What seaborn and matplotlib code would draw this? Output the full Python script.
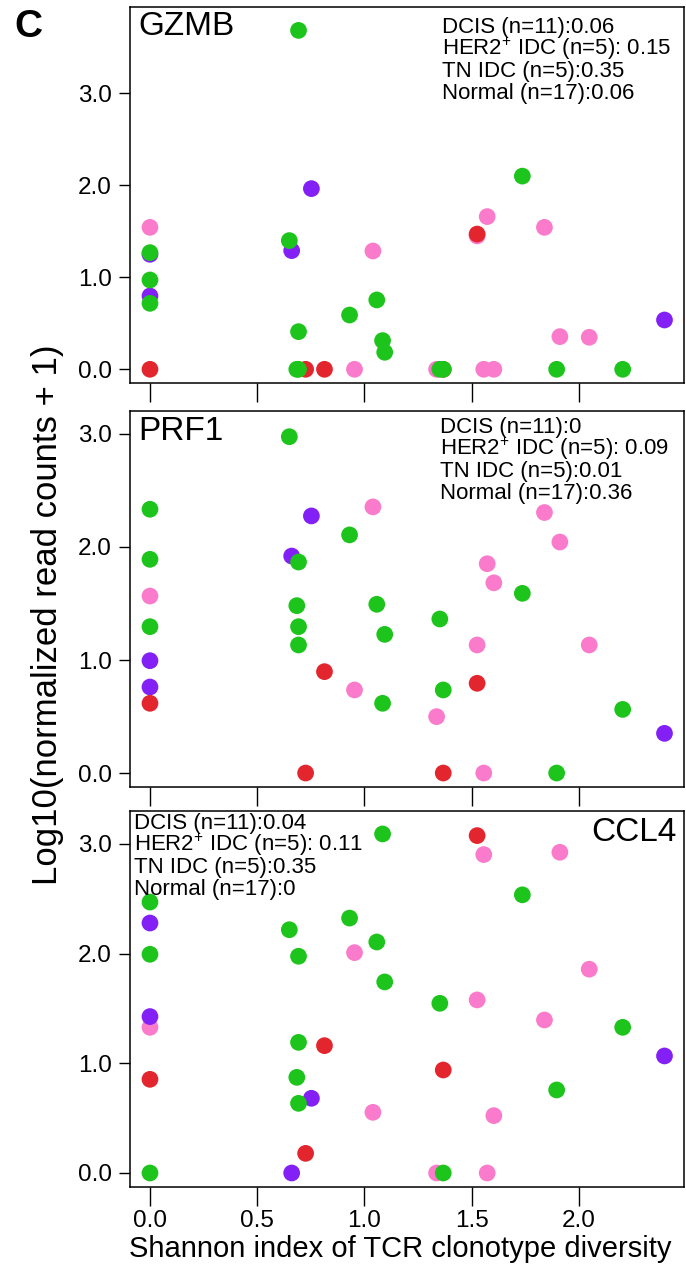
import numpy as np
import pandas as pd
import matplotlib
matplotlib.use("Agg")
import matplotlib.pyplot as plt
import seaborn as sns

# ---------------- data ----------------
groups = ["DCIS", "TN IDC", "HER2+ IDC", "Normal"]  # drawing order
colors = {"DCIS": "#FA7BCB", "TN IDC": "#8220F5", "HER2+ IDC": "#E3262E", "Normal": "#1CC41C"}

shannon_dcis = [0.0, 0.954, 1.040, 1.337, 1.526, 1.573, 1.604, 1.557, 1.840, 1.912, 2.049]
gzmb_dcis = [1.543, 0.0, 1.286, 0.0, 1.45, 1.66, 0.0, 0.0, 1.543, 0.355, 0.348]
prf1_dcis = [1.566, 0.735, 2.355, 0.499, 1.133, 1.852, 1.683, 0.0, 2.305, 2.044, 1.133]
ccl4_dcis = [1.328, 2.009, 0.553, 0.0, 1.578, 0.0, 0.523, 2.903, 1.395, 2.924, 1.858]

shannon_tn = [0.0, 0.0, 0.661, 0.753, 2.400]
gzmb_tn = [1.25, 0.797, 1.29, 1.964, 0.536]
prf1_tn = [0.994, 0.761, 1.92, 2.275, 0.351]
ccl4_tn = [2.279, 1.426, 0.0, 0.681, 1.067]

shannon_her2 = [0.0, 0.726, 0.814, 1.368, 1.526]
gzmb_her2 = [0.0, 0.0, 0.0, 0.0, 1.47]
prf1_her2 = [0.617, 0.0, 0.897, 0.0, 0.794]
ccl4_her2 = [0.854, 0.179, 1.161, 0.939, 3.076]

shannon_normal = [0.0, 0.0, 0.0, 0.650, 0.693, 0.685, 0.693, 0.693, 0.931, 1.058,
                  1.095, 1.085, 1.352, 1.368, 1.737, 1.897, 2.205]
gzmb_normal = [1.268, 0.971, 0.717, 1.399, 3.684, 0.0, 0.409, 0.0, 0.59, 0.754,
               0.185, 0.312, 0.0, 0.0, 2.10, 0.0, 0.0]
prf1_normal = [2.334, 1.891, 1.295, 2.976, 1.867, 1.481, 1.295, 1.133, 2.107, 1.493,
               1.227, 0.617, 1.363, 0.735, 1.59, 0.0, 0.563]
ccl4_normal = [2.47, 1.994, 0.0, 2.218, 1.976, 0.872, 1.191, 0.635, 2.324, 2.106,
               1.742, 3.091, 1.547, 0.0, 2.536, 0.757, 1.328]

genes = ["GZMB", "PRF1", "CCL4"]
annotations = {
    "GZMB": ["DCIS (n=11):0.06", "HER2$^{+}$ IDC (n=5): 0.15", "TN IDC (n=5):0.35", "Normal (n=17):0.06"],
    "PRF1": ["DCIS (n=11):0", "HER2$^{+}$ IDC (n=5): 0.09", "TN IDC (n=5):0.01", "Normal (n=17):0.36"],
    "CCL4": ["DCIS (n=11):0.04", "HER2$^{+}$ IDC (n=5): 0.11", "TN IDC (n=5):0.35", "Normal (n=17):0"],
}
x_ticks = [0.0, 0.5, 1.0, 1.5, 2.0]
x_ticklabels = ["0.0", "0.5", "1.0", "1.5", "2.0"]
y_ticks = [0, 1, 2, 3]
y_ticklabels = ["0.0", "1.0", "2.0", "3.0"]

frames = []
for g, sh, gz, pr, cc in [
    ("DCIS", shannon_dcis, gzmb_dcis, prf1_dcis, ccl4_dcis),
    ("TN IDC", shannon_tn, gzmb_tn, prf1_tn, ccl4_tn),
    ("HER2+ IDC", shannon_her2, gzmb_her2, prf1_her2, ccl4_her2),
    ("Normal", shannon_normal, gzmb_normal, prf1_normal, ccl4_normal),
]:
    frames.append(pd.DataFrame({"group": g, "shannon": sh, "GZMB": gz, "PRF1": pr, "CCL4": cc}))
df = pd.concat(frames, ignore_index=True)

# ---------------- style ----------------
sns.set_theme(style="white")
plt.rcParams["font.family"] = ["Liberation Sans", "DejaVu Sans"]
plt.rcParams["mathtext.fontset"] = "custom"
plt.rcParams["mathtext.rm"] = "Liberation Sans"
plt.rcParams["mathtext.it"] = "Liberation Sans"
plt.rcParams["mathtext.default"] = "regular"

W, H = 686, 1268
fig = plt.figure(figsize=(W / 100, H / 100), dpi=100)

left_px, right_px = 129.6, 684.0
panels = {  # top, bottom pixel, ylim
    "GZMB": (7.3, 383.0, (-0.149, 3.935)),
    "PRF1": (410.7, 786.7, (-0.121, 3.206)),
    "CCL4": (810.7, 1186.7, (-0.125, 3.303)),
}
title_pos = {"GZMB": (0.015, 0.948, "left"), "PRF1": (0.015, 0.944, "left"), "CCL4": (0.987, 0.941, "right")}
ann_pos = {"GZMB": (0.563, 33.3), "PRF1": (0.559, 433.3), "CCL4": (0.008, 829.3)}
line_px = 22.0

for i, gene in enumerate(genes):
    top, bot, ylim = panels[gene]
    ax = fig.add_axes([left_px / W, 1 - bot / H, (right_px - left_px) / W, (bot - top) / H])
    sns.scatterplot(data=df, x="shannon", y=gene, hue="group", hue_order=groups,
                    palette=colors, s=145, linewidth=0, legend=False, ax=ax, zorder=3)
    ax.set_xlim(-0.095, 2.491)
    ax.set_ylim(*ylim)
    ax.set_xticks(x_ticks)
    ax.set_yticks(y_ticks)
    ax.set_yticklabels(y_ticklabels)
    if gene == "CCL4":
        ax.set_xticklabels(x_ticklabels)
    else:
        ax.set_xticklabels([])
    ax.set_xlabel("")
    ax.set_ylabel("")
    for sp in ax.spines.values():
        sp.set_visible(True)
        sp.set_color("black")
        sp.set_linewidth(1.1)
    ax.tick_params(axis="x", bottom=True, direction="out", length=13.5, width=1.0,
                   color="black", labelsize=17.5, pad=3.5, labelcolor="black")
    ax.tick_params(axis="y", left=True, direction="out", length=8, width=1.0,
                   color="black", labelsize=17.5, pad=5, labelcolor="black")
    tx, ty, tha = title_pos[gene]
    ax.text(tx, ty, gene, transform=ax.transAxes, ha=tha, va="center", fontsize=24, color="black")
    axp, base_px = ann_pos[gene]
    h_px = bot - top
    for k, line in enumerate(annotations[gene]):
        yy = 1 - (base_px + k * line_px - top) / h_px
        ax.text(axp, yy, line, transform=ax.transAxes, ha="left", va="baseline",
                fontsize=16, color="black")

fig.text(14 / W, 1 - 36.7 / H, "C", ha="left", va="baseline", fontsize=28, fontweight="bold", color="black")
fig.text(57 / W, 1 - 615 / H, "Log10(normalized read counts + 1)", rotation=90, rotation_mode="anchor",
         ha="center", va="baseline", fontsize=25, color="black")
fig.text(400 / W, 1 - 1256.7 / H, "Shannon index of TCR clonotype diversity", ha="center", va="baseline",
         fontsize=21, color="black")

fig.savefig("out.png", dpi=100)
